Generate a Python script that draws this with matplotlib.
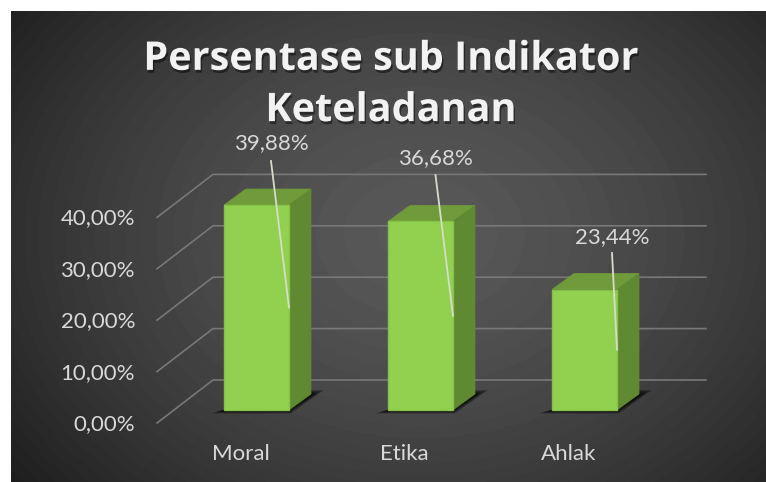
"""Persentase sub Indikator Keteladanan - fake 3D bars."""
import numpy as np
from matplotlib import pyplot as plt
from matplotlib import patheffects as pe
from matplotlib.patches import Polygon

categories = ['Moral', 'Etika', 'Ahlak']
values = [39.88, 36.68, 23.44]
value_labels = ['39,88%', '36,68%', '23,44%']
yticks = [0, 10, 20, 30, 40]
ytick_labels = ['0,00%', '10,00%', '20,00%', '30,00%', '40,00%']

W, H = 766, 482
PX_X = 164.0    # pixels per category
PX_Y = 5.14     # pixels per percent
X0, Y0 = 256.5, 410.0  # pixel of first category / zero line

plt.rcParams['font.family'] = ['Lato', 'DejaVu Sans']

fig = plt.figure(figsize=(W / 100, H / 100), dpi=100, facecolor='white')
ax = fig.add_axes([0, 0, 1, 1])
ax.axis('off')


def px(dx):
    return dx / PX_X


def py(dy):
    return dy / PX_Y


# radial background of the panel
yy, xx = np.mgrid[11:H, 11:W]
r = np.hypot((xx - 420) / 480, (yy - 235) / 370)
grey = np.clip(0.345 - 0.205 * r ** 1.5, 0.11, 1)
grey = np.round(grey * 128) / 128
ax.imshow(grey, cmap='gray', vmin=0, vmax=1, aspect='auto', zorder=0,
          extent=[px(11 - X0), px(W - X0), py(Y0 - H), py(Y0 - 11)])
ax.set_xlim(-X0 / PX_X, (W - X0) / PX_X)
ax.set_ylim(-(H - Y0) / PX_Y, Y0 / PX_Y)

# gridlines: floor diagonal, then back wall
grid_left = px(157 - X0)
depth_x = px(56)
depth_y = py(43) - py(13)
grid_right = px(706 - X0)
for t, lab in zip(yticks, ytick_labels):
    ax.plot([grid_left, grid_left + depth_x, grid_right],
            [t - py(13), t + depth_y, t + depth_y],
            color='#787878', lw=1.2, zorder=1)
    ax.text(px(135 - X0), t - py(14), lab, color='#d9d9d9', fontsize=16,
            ha='right', va='center', zorder=5)

bar_w = px(65)
side_x = px(22)
side_y = py(16)
for i, (cat, v, lab) in enumerate(zip(categories, values, value_labels)):
    l = i - bar_w / 2
    r_ = i + bar_w / 2
    # soft shadow on the floor
    for k in range(7):
        g = k * 2.0
        ax.add_patch(Polygon([(l - px(13) + px(g), -py(3.5) + py(g * 0.25)),
                              (r_ + px(2) - px(g * 0.3), -py(3.5) + py(g * 0.25)),
                              (r_ + px(35) - px(g), py(20) - py(g * 0.4)),
                              (r_ - px(g), py(20) - py(g * 0.4))],
                             fc='black', ec='none', alpha=0.22, zorder=2))
    ax.bar(i, v, width=bar_w, color='#92d050', edgecolor='#86c247', lw=1, zorder=4)
    ax.add_patch(Polygon([(l, v), (l + side_x, v + side_y),
                          (r_ + side_x, v + side_y), (r_, v)],
                         fc='#6f9b3b', ec='#6f9b3b', lw=0.5, zorder=3))
    ax.add_patch(Polygon([(r_, 0), (r_ + side_x, side_y),
                          (r_ + side_x, v + side_y), (r_, v)],
                         fc='#5f8a31', ec='#5f8a31', lw=0.5, zorder=3))
    ax.text(i - px(16), py(-44), cat, color='#d9d9d9', fontsize=16,
            ha='center', va='center', zorder=5)

# data labels and leader lines
label_dx = [14.5, 15, 27.5]
label_py = [142, 157, 236]
leader_py = [161, 175, 253]
for i, (v, lab) in enumerate(zip(values, value_labels)):
    ax.text(i + px(label_dx[i]), py(Y0 - label_py[i] - 1), lab, color='#d9d9d9',
            fontsize=16, ha='center', va='center', zorder=6)
    ax.plot([i + px(label_dx[i]), i + bar_w / 2], [py(Y0 - leader_py[i]), v / 2],
            color='#d5dccb', lw=1.3, zorder=6)

shadow = [pe.withSimplePatchShadow(offset=(1, -2), shadow_rgbFace='black', alpha=0.45)]
ax.text(px(391 - X0), py(Y0 - 85), 'Persentase sub Indikator\nKeteladanan', color='#f2f2f2',
        family=['Open Sans', 'DejaVu Sans'], fontweight='bold', fontsize=28.5,
        ha='center', va='center', linespacing=1.41, path_effects=shadow, zorder=7)

fig.savefig('out.png', dpi=100)
